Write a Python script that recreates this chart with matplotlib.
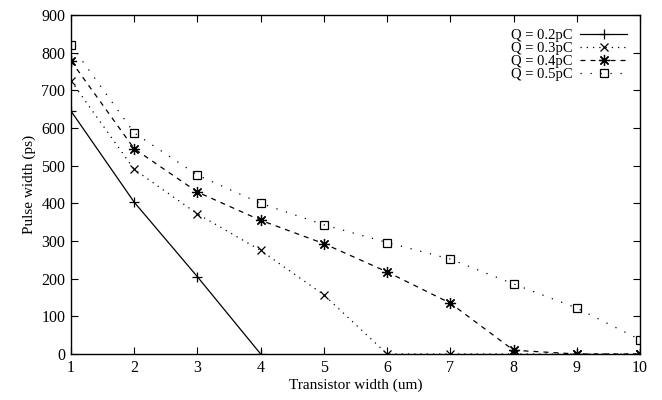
import matplotlib
matplotlib.use("Agg")
import matplotlib.pyplot as plt

x02 = [1, 2, 3, 4]
y02 = [645, 403, 205, 0]
x = [1, 2, 3, 4, 5, 6, 7, 8, 9, 10]
y03 = [725, 490, 372, 275, 157, 0, 0, 0, 0, 0]
y04 = [778, 545, 430, 355, 293, 218, 135, 10, 0, 0]
y05 = [820, 587, 475, 400, 343, 296, 252, 186, 122, 38]
labels = ["Q = 0.2pC", "Q = 0.3pC", "Q = 0.4pC", "Q = 0.5pC"]
xticks = [1, 2, 3, 4, 5, 6, 7, 8, 9, 10]
yticks = [0, 100, 200, 300, 400, 500, 600, 700, 800, 900]

plt.rcParams['font.family'] = ['Liberation Serif', 'DejaVu Serif']
fig = plt.figure(figsize=(6.62, 4.00), dpi=100)
ax = fig.add_axes([71/662, 1-354/400, (640-71)/662, (354-15)/400])

lw = 0.9
ax.plot(x02, y02, color='black', lw=lw, ls='-', marker='+', ms=7, mew=0.9, label=labels[0])
ax.plot(x, y03, color='black', lw=lw, ls=(0, (1, 4)), marker='x', ms=6, mew=0.9, label=labels[1])
ax.plot(x, y04, color='black', lw=lw, ls=(0, (4, 4)), marker=(8, 2, 0), ms=8, mew=0.9, label=labels[2])
ax.plot(x, y05, color='black', lw=lw, ls=(0, (1, 7)), marker='s', ms=6, mew=0.9,
        mfc='none', label=labels[3])

ax.set_xlim(1, 10)
ax.set_ylim(0, 900)
ax.set_xticks(xticks)
ax.set_yticks(yticks)
ax.tick_params(direction='in', top=True, right=True, length=5, width=0.8,
               labelsize=11.5, pad=4)
for s in ax.spines.values():
    s.set_linewidth(1.0)
ax.set_xlabel("Transistor width (um)", fontsize=11, labelpad=2)
ax.set_ylabel("Pulse width (ps)", fontsize=11, labelpad=4)

leg = ax.legend(loc='upper right', frameon=False, markerfirst=False, fontsize=10.5,
                labelspacing=0.0, handlelength=3.2, handletextpad=0.5,
                borderaxespad=0.3, bbox_to_anchor=(0.995, 0.99))

fig.savefig("out.png", dpi=100)
